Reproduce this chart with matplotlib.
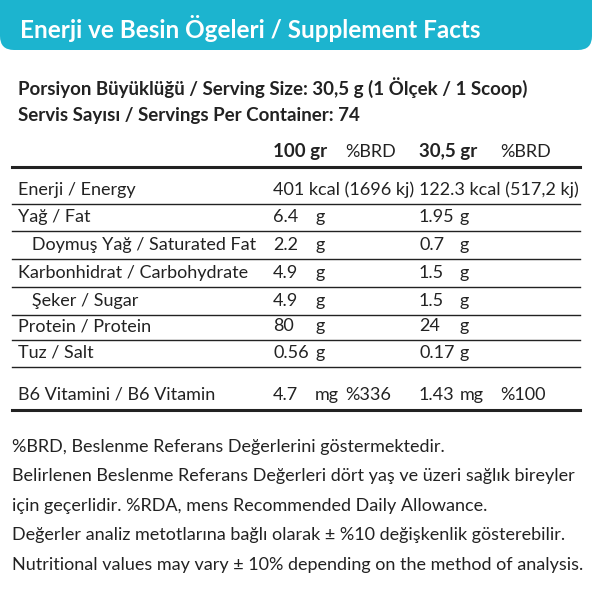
import matplotlib
matplotlib.use("Agg")
import matplotlib.pyplot as plt
from matplotlib.patches import FancyBboxPatch
from matplotlib import font_manager

title = "Enerji ve Besin Ögeleri / Supplement Facts"
serving = ["Porsiyon Büyüklüğü / Serving Size: 30,5 g (1 Ölçek / 1 Scoop)",
           "Servis Sayısı / Servings Per Container: 74"]
labels = ["Enerji / Energy", "Yağ / Fat", "   Doymuş Yağ / Saturated Fat",
          "Karbonhidrat / Carbohydrate", "   Şeker / Sugar", "Protein / Protein",
          "Tuz / Salt", "B6 Vitamini / B6 Vitamin"]
v100 = ["401", "6.4", "2.2", "4.9", "4.9", "80", "0.56", "4.7"]
u100 = ["kcal (1696 kj)", "g", "g", "g", "g", "g", "g", "mg"]
brd100 = ["", "", "", "", "", "", "", "%336"]
v30 = ["122.3", "1.95", "0.7", "1.5", "1.5", "24", "0.17", "1.43"]
u30 = ["kcal (517,2 kj)", "g", "g", "g", "g", "g", "g", "mg"]
brd30 = ["", "", "", "", "", "", "", "%100"]
notes = ["%BRD, Beslenme Referans Değerlerini göstermektedir.",
         "Belirlenen Beslenme Referans Değerleri dört yaş ve üzeri sağlık bireyler",
         "için geçerlidir. %RDA, mens Recommended Daily Allowance.",
         "Değerler analiz metotlarına bağlı olarak ± %10 değişkenlik gösterebilir.",
         "Nutritional values may vary ± 10% depending on the method of analysis."]

names = {f.name for f in font_manager.fontManager.ttflist}
narrow = 'Liberation Sans Narrow' in names
fam = ['Liberation Sans Narrow', 'DejaVu Sans'] if narrow else ['Lato', 'DejaVu Sans']
fs = 16 if narrow else 13
fsb = 16.5 if narrow else 13.5
plt.rcParams['font.family'] = fam
fig = plt.figure(figsize=(5.92, 5.92), dpi=100)
ax = fig.add_axes([0, 0, 1, 1])
ax.set_xlim(0, 592); ax.set_ylim(592, 0); ax.axis('off')
cyan = '#1cb4cf'
ink = '#222'
ax.add_patch(FancyBboxPatch((0, -30), 592, 80, boxstyle="round,pad=0,rounding_size=14",
                            fc=cyan, ec='none'))
ax.text(20, 28, title, color='white', fontsize=fsb + 4, fontweight='bold', va='center')
ax.text(18, 88, serving[0], fontsize=fsb, fontweight='bold', va='center', color=ink)
ax.text(18, 115, serving[1], fontsize=fsb, fontweight='bold', va='center', color=ink)
ax.text(273, 152, "100 gr", fontsize=fsb, fontweight='bold', va='center', color=ink)
ax.text(345, 152, "%BRD", fontsize=fs, va='center', color=ink)
ax.text(419, 152, "30,5 gr", fontsize=fsb, fontweight='bold', va='center', color=ink)
ax.text(500, 152, "%BRD", fontsize=fs, va='center', color=ink)
ax.plot([12, 580], [167, 167], color=ink, lw=2.2)
ys = [190, 217, 245, 273, 301, 326, 353, 395]
for i, lab in enumerate(labels):
    y = ys[i]
    ax.text(18, y, lab, fontsize=fs, va='center', color=ink)
    if i == 0:
        ax.text(273, y, v100[i] + " " + u100[i], fontsize=fs, va='center', color=ink)
        ax.text(419, y, v30[i] + " " + u30[i], fontsize=fs, va='center', color=ink)
    else:
        ax.text(273, y, v100[i], fontsize=fs, va='center', color=ink)
        ax.text(315, y, u100[i], fontsize=fs, va='center', color=ink)
        ax.text(419, y, v30[i], fontsize=fs, va='center', color=ink)
        ax.text(460, y, u30[i], fontsize=fs, va='center', color=ink)
        ax.text(345, y, brd100[i], fontsize=fs, va='center', color=ink)
        ax.text(500, y, brd30[i], fontsize=fs, va='center', color=ink)
    ly = y + 14 if i < 7 else 410
    ax.plot([12, 580], [ly, ly], color=ink, lw=2.2 if i == 7 else 1)
for j, t in enumerate(notes):
    ax.text(12, [447, 476, 506, 535, 565][j], t, fontsize=fs, va='center', color=ink)
fig.savefig("out.png", dpi=100)
